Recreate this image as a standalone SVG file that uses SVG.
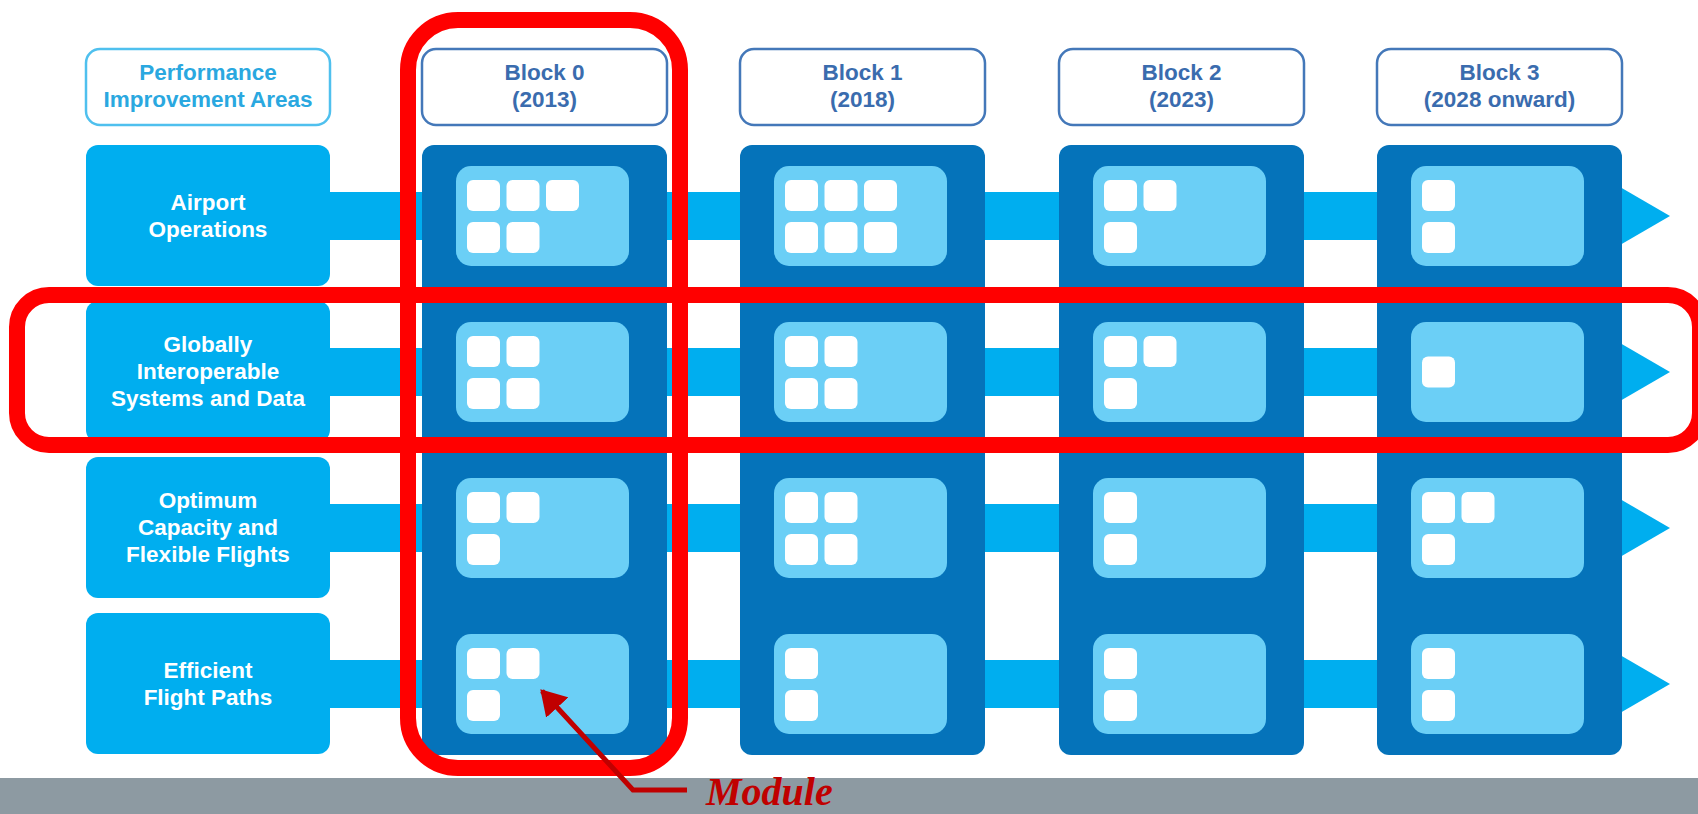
<svg xmlns="http://www.w3.org/2000/svg" width="1698" height="814" viewBox="0 0 1698 814">
<defs>
<style>
.t{font-family:"Liberation Sans",Arial,sans-serif;font-weight:bold;font-size:22.5px;text-anchor:middle}
.tw{fill:#ffffff}
.hb{fill:#ffffff;stroke:#4478b9;stroke-width:2.5}
.hp{fill:#ffffff;stroke:#4fc0ee;stroke-width:2.5}
.ht{fill:#3a6cae}
.hpt{fill:#2aa8e0}
.cat{fill:#00aeef}
.band{fill:#00aeef}
.col{fill:#0573ba}
.mod{fill:#6bcff6}
.sq{fill:#ffffff}
.red{fill:none;stroke:#ff0000;stroke-width:16}
.ann{fill:none;stroke:#c00000;stroke-width:5}
</style>
<marker id="ah" markerWidth="6" markerHeight="6" refX="4.5" refY="3" orient="auto" markerUnits="strokeWidth">
<path d="M0,0 L5,3 L0,6 z" fill="#c00000"/>
</marker>
</defs>
<rect width="1698" height="814" fill="#ffffff"/>

<g id="connectors">
<rect class="band" x="330" y="192" width="1292" height="48"/>
<polygon class="band" points="1620,187 1670,216 1620,245"/>
<rect class="band" x="330" y="348" width="1292" height="48"/>
<polygon class="band" points="1620,343 1670,372 1620,401"/>
<rect class="band" x="330" y="504" width="1292" height="48"/>
<polygon class="band" points="1620,499 1670,528 1620,557"/>
<rect class="band" x="330" y="660" width="1292" height="48"/>
<polygon class="band" points="1620,655 1670,684 1620,713"/>
</g>

<g id="header-areas">
<rect class="hp" x="86" y="49" width="244" height="76" rx="14"/>
<text class="t hpt" x="208" y="80">Performance</text>
<text class="t hpt" x="208" y="107">Improvement Areas</text>
</g>
<g id="header-block0">
<rect class="hb" x="422" y="49" width="245" height="76" rx="14"/>
<text class="t ht" x="544.5" y="80">Block 0</text>
<text class="t ht" x="544.5" y="107">(2013)</text>
</g>
<g id="header-block1">
<rect class="hb" x="740" y="49" width="245" height="76" rx="14"/>
<text class="t ht" x="862.5" y="80">Block 1</text>
<text class="t ht" x="862.5" y="107">(2018)</text>
</g>
<g id="header-block2">
<rect class="hb" x="1059" y="49" width="245" height="76" rx="14"/>
<text class="t ht" x="1181.5" y="80">Block 2</text>
<text class="t ht" x="1181.5" y="107">(2023)</text>
</g>
<g id="header-block3">
<rect class="hb" x="1377" y="49" width="245" height="76" rx="14"/>
<text class="t ht" x="1499.5" y="80">Block 3</text>
<text class="t ht" x="1499.5" y="107">(2028 onward)</text>
</g>

<g id="area-airport">
<rect class="cat" x="86" y="145" width="244" height="141" rx="12"/>
<text class="t tw" x="208" y="210">Airport</text>
<text class="t tw" x="208" y="237">Operations</text>
</g>
<g id="area-globally">
<rect class="cat" x="86" y="301" width="244" height="141" rx="12"/>
<text class="t tw" x="208" y="352">Globally</text>
<text class="t tw" x="208" y="379">Interoperable</text>
<text class="t tw" x="208" y="406">Systems and Data</text>
</g>
<g id="area-optimum">
<rect class="cat" x="86" y="457" width="244" height="141" rx="12"/>
<text class="t tw" x="208" y="508">Optimum</text>
<text class="t tw" x="208" y="535">Capacity and</text>
<text class="t tw" x="208" y="562">Flexible Flights</text>
</g>
<g id="area-efficient">
<rect class="cat" x="86" y="613" width="244" height="141" rx="12"/>
<text class="t tw" x="208" y="678">Efficient</text>
<text class="t tw" x="208" y="705">Flight Paths</text>
</g>

<g id="block0">
<rect class="col" x="422" y="145" width="245" height="610" rx="12"/>
<rect class="mod" x="456" y="166" width="173" height="100" rx="15"/>
<rect class="mod" x="456" y="322" width="173" height="100" rx="15"/>
<rect class="mod" x="456" y="478" width="173" height="100" rx="15"/>
<rect class="mod" x="456" y="634" width="173" height="100" rx="15"/>
<rect class="sq" x="467" y="180" width="33" height="31" rx="6"/>
<rect class="sq" x="506.5" y="180" width="33" height="31" rx="6"/>
<rect class="sq" x="546" y="180" width="33" height="31" rx="6"/>
<rect class="sq" x="467" y="222" width="33" height="31" rx="6"/>
<rect class="sq" x="506.5" y="222" width="33" height="31" rx="6"/>
<rect class="sq" x="467" y="336" width="33" height="31" rx="6"/>
<rect class="sq" x="506.5" y="336" width="33" height="31" rx="6"/>
<rect class="sq" x="467" y="378" width="33" height="31" rx="6"/>
<rect class="sq" x="506.5" y="378" width="33" height="31" rx="6"/>
<rect class="sq" x="467" y="492" width="33" height="31" rx="6"/>
<rect class="sq" x="506.5" y="492" width="33" height="31" rx="6"/>
<rect class="sq" x="467" y="534" width="33" height="31" rx="6"/>
<rect class="sq" x="467" y="648" width="33" height="31" rx="6"/>
<rect class="sq" x="506.5" y="648" width="33" height="31" rx="6"/>
<rect class="sq" x="467" y="690" width="33" height="31" rx="6"/>
</g>

<g id="block1">
<rect class="col" x="740" y="145" width="245" height="610" rx="12"/>
<rect class="mod" x="774" y="166" width="173" height="100" rx="15"/>
<rect class="mod" x="774" y="322" width="173" height="100" rx="15"/>
<rect class="mod" x="774" y="478" width="173" height="100" rx="15"/>
<rect class="mod" x="774" y="634" width="173" height="100" rx="15"/>
<rect class="sq" x="785" y="180" width="33" height="31" rx="6"/>
<rect class="sq" x="824.5" y="180" width="33" height="31" rx="6"/>
<rect class="sq" x="864" y="180" width="33" height="31" rx="6"/>
<rect class="sq" x="785" y="222" width="33" height="31" rx="6"/>
<rect class="sq" x="824.5" y="222" width="33" height="31" rx="6"/>
<rect class="sq" x="864" y="222" width="33" height="31" rx="6"/>
<rect class="sq" x="785" y="336" width="33" height="31" rx="6"/>
<rect class="sq" x="824.5" y="336" width="33" height="31" rx="6"/>
<rect class="sq" x="785" y="378" width="33" height="31" rx="6"/>
<rect class="sq" x="824.5" y="378" width="33" height="31" rx="6"/>
<rect class="sq" x="785" y="492" width="33" height="31" rx="6"/>
<rect class="sq" x="824.5" y="492" width="33" height="31" rx="6"/>
<rect class="sq" x="785" y="534" width="33" height="31" rx="6"/>
<rect class="sq" x="824.5" y="534" width="33" height="31" rx="6"/>
<rect class="sq" x="785" y="648" width="33" height="31" rx="6"/>
<rect class="sq" x="785" y="690" width="33" height="31" rx="6"/>
</g>

<g id="block2">
<rect class="col" x="1059" y="145" width="245" height="610" rx="12"/>
<rect class="mod" x="1093" y="166" width="173" height="100" rx="15"/>
<rect class="mod" x="1093" y="322" width="173" height="100" rx="15"/>
<rect class="mod" x="1093" y="478" width="173" height="100" rx="15"/>
<rect class="mod" x="1093" y="634" width="173" height="100" rx="15"/>
<rect class="sq" x="1104" y="180" width="33" height="31" rx="6"/>
<rect class="sq" x="1143.5" y="180" width="33" height="31" rx="6"/>
<rect class="sq" x="1104" y="222" width="33" height="31" rx="6"/>
<rect class="sq" x="1104" y="336" width="33" height="31" rx="6"/>
<rect class="sq" x="1143.5" y="336" width="33" height="31" rx="6"/>
<rect class="sq" x="1104" y="378" width="33" height="31" rx="6"/>
<rect class="sq" x="1104" y="492" width="33" height="31" rx="6"/>
<rect class="sq" x="1104" y="534" width="33" height="31" rx="6"/>
<rect class="sq" x="1104" y="648" width="33" height="31" rx="6"/>
<rect class="sq" x="1104" y="690" width="33" height="31" rx="6"/>
</g>

<g id="block3">
<rect class="col" x="1377" y="145" width="245" height="610" rx="12"/>
<rect class="mod" x="1411" y="166" width="173" height="100" rx="15"/>
<rect class="mod" x="1411" y="322" width="173" height="100" rx="15"/>
<rect class="mod" x="1411" y="478" width="173" height="100" rx="15"/>
<rect class="mod" x="1411" y="634" width="173" height="100" rx="15"/>
<rect class="sq" x="1422" y="180" width="33" height="31" rx="6"/>
<rect class="sq" x="1422" y="222" width="33" height="31" rx="6"/>
<rect class="sq" x="1422" y="356.5" width="33" height="31" rx="6"/>
<rect class="sq" x="1422" y="492" width="33" height="31" rx="6"/>
<rect class="sq" x="1461.5" y="492" width="33" height="31" rx="6"/>
<rect class="sq" x="1422" y="534" width="33" height="31" rx="6"/>
<rect class="sq" x="1422" y="648" width="33" height="31" rx="6"/>
<rect class="sq" x="1422" y="690" width="33" height="31" rx="6"/>
</g>

<g id="highlight-block0">
<rect class="red" x="408" y="20" width="272" height="748" rx="50"/>
</g>
<g id="highlight-row">
<rect class="red" x="17" y="295" width="1683" height="150" rx="32"/>
</g>

<rect id="footer-bar" x="0" y="778" width="1698" height="36" fill="#8d9aa2"/>

<g id="module-annotation">
<path class="ann" d="M687,790 L633,790 L542,691" marker-end="url(#ah)"/>
<text x="706" y="805" font-family="'Liberation Serif','Times New Roman',serif" font-weight="bold" font-style="italic" font-size="40" fill="#c00000">Module</text>
</g>
</svg>
